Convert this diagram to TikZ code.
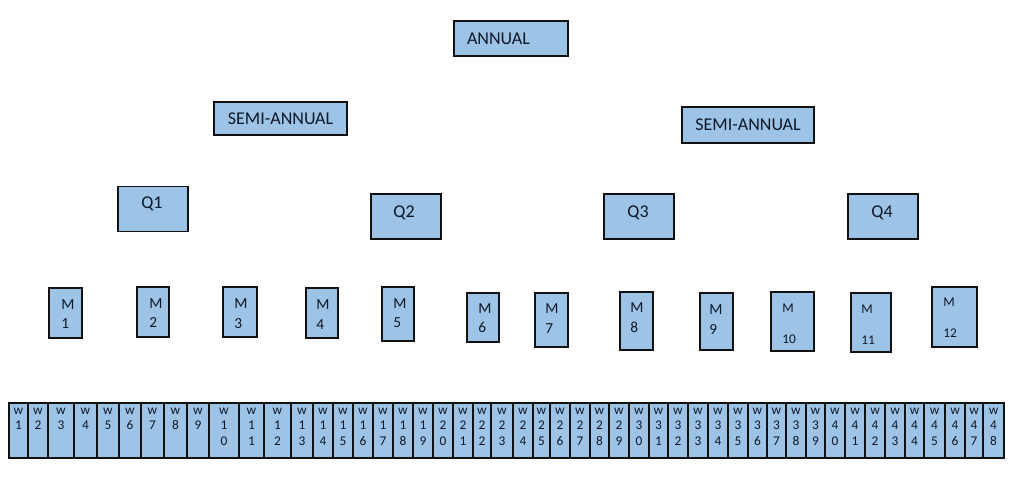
\documentclass[tikz,border=0pt]{standalone}
\usepackage{fontspec}
\setmainfont{Carlito}
\usepackage{xcolor}
\usepackage{tikz}
\definecolor{planInk}{HTML}{0E1726}
\definecolor{planEdge}{HTML}{111111}
\definecolor{planFill}{HTML}{9DC3E6}
\tikzset{
  % One pixel of the layout is .75pt; every box is placed by its centre.
  plan/base/.style={
    font=\rmfamily\fontsize{11pt}{13pt}\selectfont,
    text=planInk,
    line join=miter
  },
  plan/px box/.style 2 args={
    minimum width={(#1)*0.75pt},
    minimum height={(#2)*0.75pt}
  },
  plan/box/.style={
    rectangle,
    draw=planEdge,
    fill=planFill,
    line width=.85pt,
    inner sep=0pt
  },
  plan/title/.style={
    font=\rmfamily\fontsize{13.5pt}{16pt}\selectfont,
    text=planInk
  },
  plan/q label/.style={
    font=\rmfamily\fontsize{13.5pt}{15pt}\selectfont,
    text=planInk,
    inner sep=0pt
  },
  plan/m label/.style={
    font=\rmfamily\fontsize{11.5pt}{13pt}\selectfont,
    text=planInk,
    inner sep=0pt,
    anchor=west
  },
  plan/m label small/.style={
    plan/m label,
    font=\rmfamily\fontsize{10pt}{12pt}\selectfont
  },
  plan/w label/.style={
    font=\rmfamily\fontsize{10pt}{11.4pt}\selectfont,
    text=planInk,
    align=center,
    inner sep=0pt,
    anchor=north
  }
}

\begin{document}
\begin{tikzpicture}[plan/base,x=.75pt,y=-.75pt,
  box/.style={plan/box},
  px box/.style 2 args={plan/px box={#1}{#2}},
  month label/.style={plan/m label},
  small month label/.style={plan/m label small}
]
  \path[use as bounding box] (0,0) rectangle (1012,483);

  % year and half years
  \node[box,px box={114}{35},plan/title,text width=66pt,inner xsep=9.75pt,
    align=left] (annual) at (511,38.5) {ANNUAL};
  \node[box,px box={133}{33},plan/title] (semiOne) at (280.5,118.5) {SEMI-ANNUAL};
  \node[box,px box={132}{36},plan/title] (semiTwo) at (748,125) {SEMI-ANNUAL};

  % quarters: id / box centre x,y / label x,y
  \foreach \q/\bx/\by/\tx/\ty in {
    1/153/209/152/204,
    2/406/216.5/404/212.5,
    3/639/216.5/638/213,
    4/883/216.5/882/213} {
    \node[box,px box={70}{45}] (quarter-\q) at (\bx,\by) {};
    \node[plan/q label] (quarter-\q-text) at (\tx,\ty) {Q\q};
  }

  % months: id / left,top,right,bottom / text x / M y / number y / style
  \foreach \n/\l/\t/\r/\b/\tx/\my/\ny/\mstyle in {
    1/49/288/82/338/61/305/323.5/month label,
    2/137/287/169/337/149/304/323/month label,
    3/223/287/257/337/234/304/324/month label,
    4/306/288/338/338/316/305/324.5/month label,
    5/382/287/414/341/393/304/323/month label,
    6/467/293/499/342/478/309/327/month label,
    7/535/293/568/347/545/309/329/month label,
    8/620/292/653/350/630/308/327/month label,
    9/700/293/733/350/709/310/330/month label,
    10/771/292/814/351/782/308/339/small month label,
    11/851/293/891/352/861/309/340/small month label,
    12/932/287/977/347/943/302/333/small month label} {
    \node[box,px box={\r-\l}{\b-\t}] (month-\n) at ({(\l+\r)/2},{(\t+\b)/2}) {};
    \node[\mstyle] (month-\n-m) at (\tx,\my) {M};
    \node[\mstyle] (month-\n-num) at (\tx,\ny) {\n};
  }

  % weeks: one column per week, digits stacked under the w
  \foreach \i/\l/\r in {
    1/9/28,2/28/48,3/48/74,4/74/97,5/97/119,6/119/141,7/141/164,8/164/187,
    9/187/209,10/209/239,11/239/264,12/264/291,13/291/313,14/313/333,
    15/333/353,16/353/373,17/373/393,18/393/413,19/413/433,20/433/453,
    21/453/473,22/473/491,23/491/513,24/513/533,25/533/550,26/550/570,
    27/570/590,28/590/609,29/609/629,30/629/649,31/649/668,32/668/688,
    33/688/708,34/708/728,35/728/748,36/748/767,37/767/786,38/786/806,
    39/806/825,40/825/845,41/845/865,42/865/885,43/885/905,44/905/924,
    45/924/945,46/945/965,47/965/983,48/983/1004} {
    \pgfmathtruncatemacro\tens{\i/10}
    \pgfmathtruncatemacro\ones{\i-10*\tens}
    \ifnum\i<10 \def\wtext{w\\\i}\else \def\wtext{w\\\tens\\\ones}\fi
    \node[box,px box={\r-\l}{55}] (week-\i) at ({(\l+\r)/2},430.5) {};
    \node[plan/w label] (week-\i-text) at ({(\l+\r)/2},408) {\wtext};
  }
\end{tikzpicture}
\end{document}
